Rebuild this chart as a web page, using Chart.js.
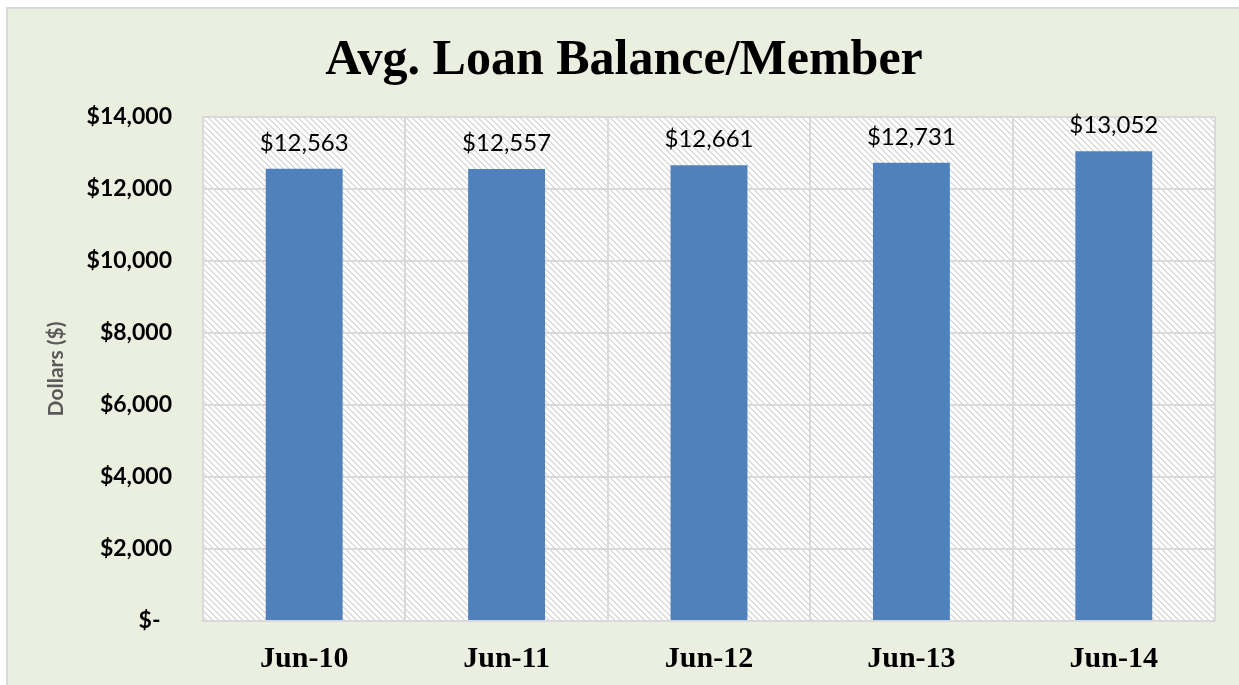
<!DOCTYPE html>
<html>
<head>
<meta charset="utf-8">
<script src="https://cdn.jsdelivr.net/npm/chart.js@4"></script>
<style>
  html, body { margin: 0; padding: 0; background: #ffffff; overflow: hidden; }
  #wrap { position: absolute; left: 0; top: 0; width: 1239px; height: 685px; }
</style>
</head>
<body>
<div id="wrap"><canvas id="loanChart" width="1239" height="685"></canvas></div>
<script>
// data
const categories = ['Jun-10', 'Jun-11', 'Jun-12', 'Jun-13', 'Jun-14'];
const avgLoanBalance = [12563, 12557, 12661, 12731, 13052];
const yTicks = [0, 2000, 4000, 6000, 8000, 10000, 12000, 14000];

const chartTitle = 'Avg. Loan Balance/Member';
const yAxisTitle = 'Dollars ($)';

const money = v => v === 0 ? '$-\u2002' : '$' + v.toLocaleString('en-US');

// hatch fill for the plot area
const makeHatch = () => {
    const tile = document.createElement('canvas');
    tile.width = 6;
    tile.height = 6;
    const t = tile.getContext('2d');
    t.fillStyle = '#ffffff';
    t.fillRect(0, 0, 6, 6);
    t.fillStyle = '#dcdcdc';
    for (let i = 0; i < 6; i++) {
        t.fillRect(i, i, 1, 1);
        t.fillRect((i + 1) % 6, i, 1, 1);
    }
    return t.createPattern(tile, 'repeat');
};

// outer box + hatched plot area
const backgroundPlugin = {
    id: 'bg',
    beforeDraw(chart) {
        const { ctx, chartArea: a, width, height } = chart;
        ctx.save();
        ctx.fillStyle = '#ffffff';
        ctx.fillRect(0, 0, width, height);
        ctx.fillStyle = '#d9d9d9';
        ctx.fillRect(6, 7, width - 6, height - 7);
        ctx.fillStyle = '#ebefdf';
        ctx.fillRect(8, 9, width - 8, height - 9);
        ctx.fillStyle = makeHatch();
        ctx.fillRect(a.left, a.top, a.right - a.left, a.bottom - a.top);
        ctx.restore();
    },
    afterDraw(chart) {
        const { ctx } = chart;
        ctx.save();
        ctx.fillStyle = '#000000';
        ctx.font = 'bold 50px "Liberation Serif", serif';
        ctx.textAlign = 'center';
        ctx.textBaseline = 'alphabetic';
        ctx.fillText(chartTitle, 624, 74);
        ctx.restore();
    }
};

// value labels above each bar
const valueLabels = {
    id: 'valueLabels',
    afterDatasetsDraw(chart) {
        const { ctx } = chart;
        const meta = chart.getDatasetMeta(0);
        ctx.save();
        ctx.fillStyle = '#000000';
        ctx.font = '24px Lato, sans-serif';
        ctx.textAlign = 'center';
        ctx.textBaseline = 'alphabetic';
        meta.data.forEach((bar, i) => {
            ctx.fillText(money(avgLoanBalance[i]), bar.x, bar.y - 18);
        });
        ctx.restore();
    }
};

const ctx = document.getElementById('loanChart').getContext('2d');
new Chart(ctx, {
    type: 'bar',
    data: {
        labels: categories,
        datasets: [{
            data: avgLoanBalance,
            backgroundColor: '#4f81bd',
            borderWidth: 0,
            barPercentage: 0.38,
            categoryPercentage: 1
        }]
    },
    options: {
        responsive: false,
        animation: false,
        layout: { padding: { left: 8, right: 24, top: 117, bottom: 0 } },
        plugins: {
            legend: { display: false },
            tooltip: { enabled: false },
            title: { display: false }
        },
        scales: {
            x: {
                offset: true,
                grid: { color: '#d9d9d9', lineWidth: 2, offset: true, drawTicks: false },
                border: { color: '#d9d9d9', width: 2 },
                ticks: {
                    color: '#000000',
                    padding: 20,
                    font: { family: '"Liberation Serif", serif', size: 30, weight: 'bold' }
                },
                afterFit: s => { s.height = 64; }
            },
            y: {
                min: 0,
                max: 14000,
                afterBuildTicks: s => { s.ticks = yTicks.map(v => ({ value: v })); },
                grid: { color: '#d9d9d9', lineWidth: 2, drawTicks: false },
                border: { color: '#d9d9d9', width: 2 },
                ticks: {
                    color: '#000000',
                    padding: 31,
                    font: { family: 'Lato, sans-serif', size: 23, weight: 'bold' },
                    callback: v => money(v)
                },
                title: {
                    display: true,
                    text: yAxisTitle,
                    color: '#595959',
                    padding: { top: 36, bottom: 0 },
                    font: { family: 'Lato, sans-serif', size: 21, weight: 'bold' }
                },
                afterFit: s => { s.width = 195; }
            }
        }
    },
    plugins: [backgroundPlugin, valueLabels]
});
</script>
</body>
</html>
